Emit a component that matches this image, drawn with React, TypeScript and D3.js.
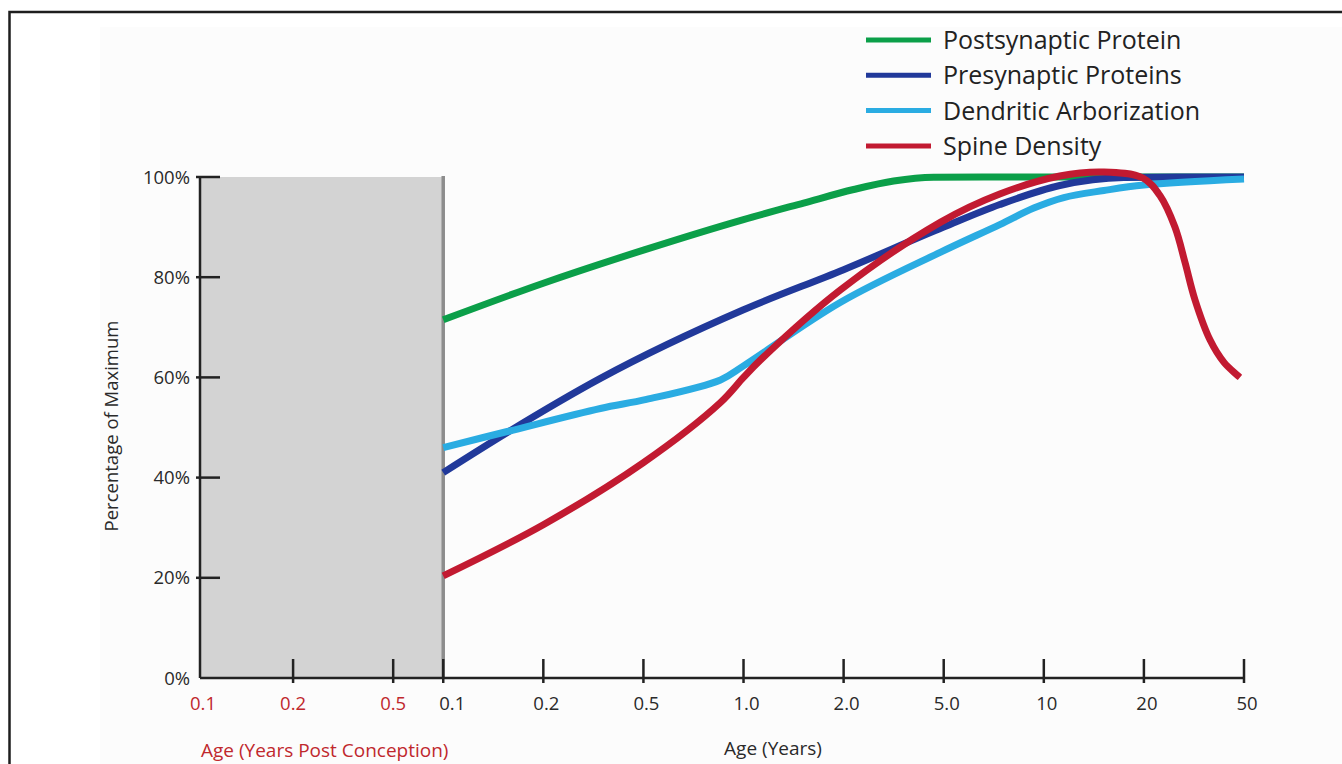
import React from "react";
import * as d3 from "d3";

// ---- Data ----
// Age axis is drawn in "tick units": postnatal ticks sit at 0..8 (evenly spaced),
// prenatal ticks at the positions below (axis origin = -2.43).
const postnatalTicks = ["0.1", "0.2", "0.5", "1.0", "2.0", "5.0", "10", "20", "50"];
const prenatalTicks = ["0.1", "0.2", "0.5"];
const prenatalTickPos = [-2.43, -1.5, -0.5];
const yTicks = [0, 20, 40, 60, 80, 100];

const seriesNames = ["Postsynaptic Protein", "Presynaptic Proteins", "Dendritic Arborization", "Spine Density"];
const seriesColors = ["#0b9f49", "#21399a", "#2aace2", "#c21a31"];

const postsynaptic: [number, number][] = [
  [0, 71.5], [1, 78.8], [2, 85.4], [3, 91.5], [3.6, 94.8], [4.1, 97.5], [4.5, 99.2], [4.9, 99.95], [5.4, 100], [6.5, 100], [8, 100],
];
const presynaptic: [number, number][] = [
  [0, 41], [0.64, 49], [1.57, 59.8], [3.0, 73.5], [4, 81.5], [5, 90], [5.56, 94.5], [6.16, 98.3], [6.8, 99.9], [7.5, 100], [8, 100],
];
const dendritic: [number, number][] = [
  [0, 46], [0.64, 49.2], [1.57, 53.8], [2.03, 55.6], [2.77, 59.5], [3.0, 62.3], [3.97, 75], [4.97, 85], [5.56, 90.5], [5.9, 93.8],
  [6.2, 95.9], [6.6, 97.3], [7, 98.4], [8, 99.6],
];
const spine: [number, number][] = [
  [0, 20.4], [1, 30.6], [2, 43], [2.77, 55], [3.0, 60], [3.17, 63.5], [3.97, 77.5], [4.97, 91],
  [5.56, 96.6], [6.16, 100.2], [6.6, 101], [6.99, 99.8], [7.16, 96.3], [7.31, 90], [7.41, 83], [7.51, 75.5],
  [7.66, 67.5], [7.8, 63], [7.96, 60],
];
const allSeries = [postsynaptic, presynaptic, dendritic, spine];

export default function App() {
  const W = 1342, H = 764;
  const x = d3.scaleLinear().domain([-2.43, 8]).range([200, 1244]);
  const y = d3.scaleLinear().domain([0, 100]).range([678, 177]);
  const curves = [d3.curveMonotoneX, d3.curveMonotoneX, d3.curveCatmullRom.alpha(0.5), d3.curveCatmullRom.alpha(0.5)];
  const makeLine = (i: number) =>
    d3
      .line<[number, number]>()
      .x((d) => x(d[0]))
      .y((d) => y(d[1]))
      .curve(curves[i]);
  const font = "'Open Sans', 'Noto Sans', sans-serif";
  const birthX = x(0);

  return (
    <svg width={W} height={H} style={{ position: "absolute", left: 0, top: 0, display: "block", background: "#fff" }}>
      <rect x={100} y={27} width={W} height={H} fill="#fcfcfc" />
      <rect x={9.5} y={12} width={1400} height={800} fill="none" stroke="#1e1e1e" strokeWidth={2.5} />

      {/* prenatal shaded area */}
      <rect x={x(-2.43)} y={y(100)} width={birthX - x(-2.43)} height={y(0) - y(100)} fill="#d3d3d3" />
      <line x1={birthX} x2={birthX} y1={y(100) - 1} y2={y(0)} stroke="#8d8d8d" strokeWidth={3.5} />

      {/* y axis */}
      <line x1={x(-2.43)} x2={x(-2.43)} y1={y(100)} y2={y(0)} stroke="#222" strokeWidth={2.5} />
      {yTicks.map((t) => (
        <g key={t}>
          {t > 0 && <line x1={196} x2={220} y1={y(t)} y2={y(t)} stroke="#222" strokeWidth={2.5} />}
          <text x={190} y={y(t)} dy="0.36em" textAnchor="end" fontFamily={font} fontSize={18.5} fill="#2a2a2a">
            {t}%
          </text>
        </g>
      ))}
      <text
        transform={`translate(118,${426}) rotate(-90)`}
        textAnchor="middle"
        fontFamily={font}
        fontSize={18.5}
        fill="#2a2a2a"
      >
        Percentage of Maximum
      </text>

      {/* x axis */}
      <line x1={x(-2.43)} x2={x(8)} y1={y(0)} y2={y(0)} stroke="#222" strokeWidth={2.5} />
      {prenatalTicks.map((t, i) => (
        <g key={"pre" + i}>
          {i > 0 && <line x1={x(prenatalTickPos[i])} x2={x(prenatalTickPos[i])} y1={659} y2={683} stroke="#222" strokeWidth={2.5} />}
          <text x={x(prenatalTickPos[i]) + (i === 0 ? 3 : 0)} y={710} textAnchor="middle" fontFamily={font} fontSize={18.5} fill="#c0282d">
            {t}
          </text>
        </g>
      ))}
      {postnatalTicks.map((t, i) => (
        <g key={"post" + i}>
          <line x1={x(i)} x2={x(i)} y1={659} y2={683} stroke="#222" strokeWidth={2.5} />
          <text x={x(i) + (i === 0 ? 9 : 3)} y={710} textAnchor="middle" fontFamily={font} fontSize={18.5} fill="#2a2a2a">
            {t}
          </text>
        </g>
      ))}
      <text x={201} y={757} fontFamily={font} fontSize={19} fill="#c0282d">
        Age (Years Post Conception)
      </text>
      <text x={773} y={755} textAnchor="middle" fontFamily={font} fontSize={19} fill="#2a2a2a">
        Age (Years)
      </text>

      {/* series */}
      {allSeries.map((s, i) => (
        <path key={i} d={makeLine(i)(s) || ""} fill="none" stroke={seriesColors[i]} strokeWidth={7} strokeLinejoin="round" />
      ))}

      {/* legend */}
      {seriesNames.map((n, i) => {
        const ly = 40 + i * 35.3;
        return (
          <g key={n}>
            <line x1={866} x2={931} y1={ly} y2={ly} stroke={seriesColors[i]} strokeWidth={5} />
            <text x={943} y={ly} dy="0.36em" fontFamily={font} fontSize={25} fill="#222">
              {n}
            </text>
          </g>
        );
      })}
    </svg>
  );
}
